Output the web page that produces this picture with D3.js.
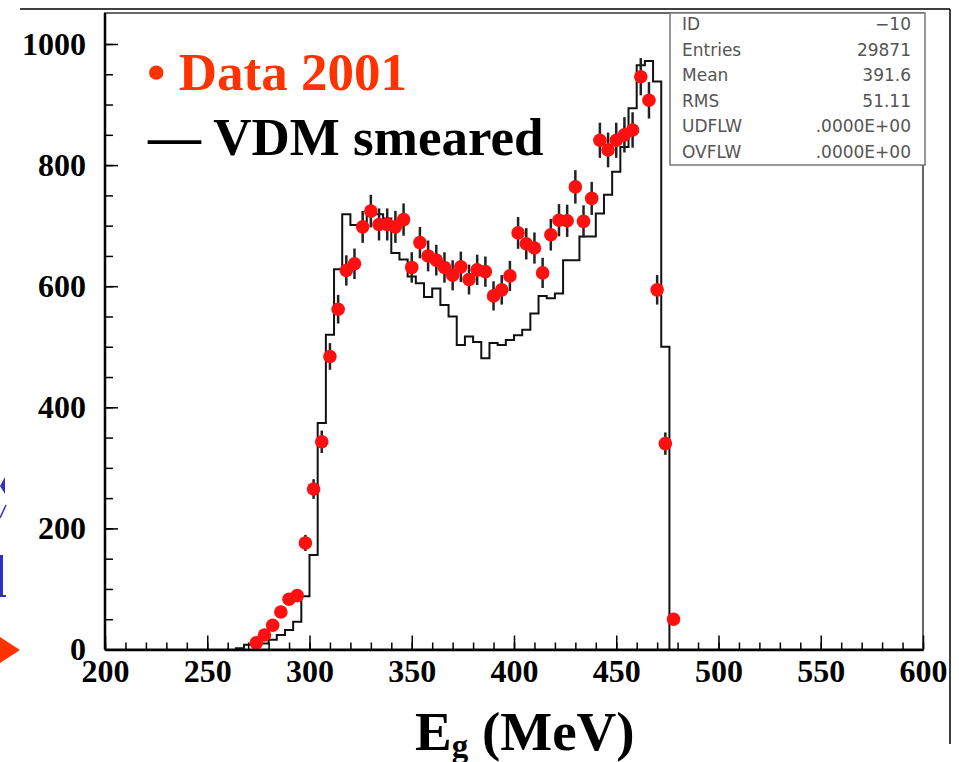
<!DOCTYPE html>
<html>
<head>
<meta charset="utf-8">
<script src="https://cdn.jsdelivr.net/npm/d3@7"></script>
<style>
  html, body { margin: 0; padding: 0; background: #fff; }
  svg { display: block; }
</style>
</head>
<body>
<script>
// ---- data ----
// Data 2001 : bin centres (MeV) and counts
const dataE = [274,278,282,286,290,294,298,302,306,310,314,318,322,326,330,334,338,342,346,350,
               354,358,362,366,370,374,378,382,386,390,394,398,402,406,410,414,418,422,426,430,
               434,438,442,446,450,454,458,462,466,470,474,478];
const dataN = [11,24,40,62,83,89,176,265,343,484,562,626,637,698,724,702,702,698,710,631,
               672,650,643,631,618,632,611,627,624,584,594,617,688,670,663,622,685,709,708,764,
               707,745,841,825,841,850,858,946,907,594,340,50];
// VDM smeared histogram : bin low edges (MeV) and contents (4 MeV bins)
const histLo = [264,268,272,276,280,284,288,292,296,300,304,308,312,316,320,324,328,332,336,340,
                344,348,352,356,360,364,368,372,376,380,384,388,392,396,400,404,408,412,416,420,
                424,428,432,436,440,444,448,452,456,460,464,468,472];
const histN  = [2,8,10,10,16,24,32,46,88,156,374,520,628,719,701,701,719,719,712,655,
                644,616,605,582,596,569,550,503,517,508,481,506,503,511,519,528,555,584,580,588,
                643,643,682,682,720,751,789,830,894,965,972,938,500];
const binWidth = 4;
const xTicks = [200,250,300,350,400,450,500,550,600];
const yTicks = [0,200,400,600,800,1000];
const statLabels = ["ID","Entries","Mean","RMS","UDFLW","OVFLW"];
const statValues = ["\u221210","29871","391.6","51.11",".0000E+00",".0000E+00"];

// ---- layout ----
const W = 959, H = 762;
const frame = {left: 105, right: 923, top: 13, bottom: 649.5};
const x = d3.scaleLinear().domain([200, 600]).range([frame.left, frame.right]);
const y = d3.scaleLinear().domain([0, 1000]).range([frame.bottom, 44]);

const svg = d3.select("body").append("svg").attr("width", W).attr("height", H);
svg.append("rect").attr("width", W).attr("height", H).attr("fill", "#fff");

// outer slide lines
svg.append("line").attr("x1", 20).attr("x2", 950).attr("y1", 9).attr("y2", 9)
  .attr("stroke", "#000").attr("stroke-width", 1.5);
svg.append("line").attr("x1", 950).attr("x2", 950).attr("y1", 9).attr("y2", 744)
  .attr("stroke", "#000").attr("stroke-width", 1.5);

// left-edge slide fragments
const blue = "#3030c8";
svg.append("path").attr("d", "M0,486 L5,477 L5,494 Z").attr("fill", blue);
svg.append("line").attr("x1", 0).attr("y1", 518).attr("x2", 6).attr("y2", 505)
  .attr("stroke", blue).attr("stroke-width", 1.5);
svg.append("rect").attr("x", 0).attr("y", 555).attr("width", 3).attr("height", 42).attr("fill", blue);
svg.append("rect").attr("x", 0).attr("y", 595).attr("width", 6).attr("height", 2).attr("fill", blue);
svg.append("path").attr("d", "M0,637 L20,650 L0,663 Z").attr("fill", "#ff3300");

// plot frame
svg.append("rect")
  .attr("x", frame.left).attr("y", frame.top)
  .attr("width", frame.right - frame.left).attr("height", frame.bottom - frame.top)
  .attr("fill", "none").attr("stroke", "#666").attr("stroke-width", 2);

// histogram (VDM smeared)
const pts = [[histLo[0], 0]];
histLo.forEach((lo, i) => { pts.push([lo, histN[i]]); pts.push([lo + binWidth, histN[i]]); });
pts.push([histLo[histLo.length - 1] + binWidth, 0]);
svg.append("path")
  .attr("d", d3.line().x(d => x(d[0])).y(d => y(d[1]))(pts))
  .attr("fill", "none").attr("stroke", "#111").attr("stroke-width", 2);

// data: error bars then points
const pts2 = dataE.map((e, i) => ({e, n: dataN[i]}));
svg.append("g").selectAll("line").data(pts2).join("line")
  .attr("x1", d => x(d.e)).attr("x2", d => x(d.e))
  .attr("y1", d => y(d.n + Math.sqrt(d.n))).attr("y2", d => y(Math.max(0, d.n - Math.sqrt(d.n))))
  .attr("stroke", "#222").attr("stroke-width", 2.5);
svg.append("g").selectAll("circle").data(pts2).join("circle")
  .attr("cx", d => x(d.e)).attr("cy", d => y(d.n)).attr("r", 6.8)
  .attr("fill", "#ff1010");

// stats box
const sb = {x: 670, y: frame.top, w: frame.right + 2 - 670, h: 152};
svg.append("rect").attr("x", sb.x).attr("y", sb.y).attr("width", sb.w).attr("height", sb.h)
  .attr("fill", "#fff").attr("stroke", "#777").attr("stroke-width", 1.5);
const statG = svg.append("g").attr("font-family", "DejaVu Sans, sans-serif")
  .attr("font-size", 17).attr("fill", "#555");
statLabels.forEach((l, i) => {
  statG.append("text").attr("x", 682).attr("y", 30 + i * 25.6).text(l);
  statG.append("text").attr("x", 911).attr("y", 30 + i * 25.6).attr("text-anchor", "end").text(statValues[i]);
});

// axes
const xMinor = d3.range(200, 601, 10);
const yMinor = d3.range(0, 1001, 50);
const serifBold = "'Liberation Serif', 'Times New Roman', serif";

svg.append("g").attr("transform", `translate(0,${frame.bottom})`)
  .call(d3.axisBottom(x).tickValues(xMinor).tickSizeInner(-7).tickSizeOuter(0).tickFormat(""))
  .call(g => g.select(".domain").remove())
  .call(g => g.selectAll("line").attr("stroke", "#000").attr("stroke-width", 1.5));
svg.append("g").attr("transform", `translate(${frame.left},0)`)
  .call(d3.axisLeft(y).tickValues(yMinor).tickSizeInner(-8).tickSizeOuter(0).tickFormat(""))
  .call(g => g.select(".domain").remove())
  .call(g => g.selectAll("line").attr("stroke", "#000").attr("stroke-width", 1.5));

const xAxis = svg.append("g").attr("transform", `translate(0,${frame.bottom})`)
  .call(d3.axisBottom(x).tickValues(xTicks).tickSizeInner(-14).tickSizeOuter(0).tickPadding(10)
        .tickFormat(d3.format("d")));
xAxis.select(".domain").attr("stroke", "#000").attr("stroke-width", 2.5);
xAxis.selectAll("line").attr("stroke", "#000").attr("stroke-width", 1.5);
xAxis.selectAll("text").attr("font-family", serifBold).attr("font-weight", "bold")
  .attr("font-size", 32).attr("fill", "#000");

const yAxis = svg.append("g").attr("transform", `translate(${frame.left},0)`)
  .call(d3.axisLeft(y).tickValues(yTicks).tickSizeInner(-13).tickSizeOuter(0).tickPadding(19)
        .tickFormat(d3.format("d")));
yAxis.select(".domain").attr("stroke", "#000").attr("stroke-width", 2.5)
  .attr("d", `M0,${frame.bottom}V${frame.top}`);
yAxis.selectAll("line").attr("stroke", "#000").attr("stroke-width", 1.5);
yAxis.selectAll("text").attr("font-family", serifBold).attr("font-weight", "bold")
  .attr("font-size", 32).attr("fill", "#000");

// legend
svg.append("text").attr("x", 147).attr("y", 90)
  .attr("font-family", serifBold).attr("font-weight", "bold").attr("font-size", 53)
  .attr("fill", "#ff3300").text("\u2022 Data 2001");
svg.append("text").attr("x", 148).attr("y", 155)
  .attr("font-family", serifBold).attr("font-weight", "bold").attr("font-size", 53)
  .attr("fill", "#000").text("\u2014 VDM smeared");

// x-axis title
const tt = svg.append("text").attr("x", 415).attr("y", 750)
  .attr("font-family", serifBold).attr("font-weight", "bold").attr("font-size", 55).attr("fill", "#000");
tt.append("tspan").text("E");
tt.append("tspan").attr("font-size", 33).attr("dy", 7).text("g");
tt.append("tspan").attr("dy", -7).text(" (MeV)");
</script>
</body>
</html>
